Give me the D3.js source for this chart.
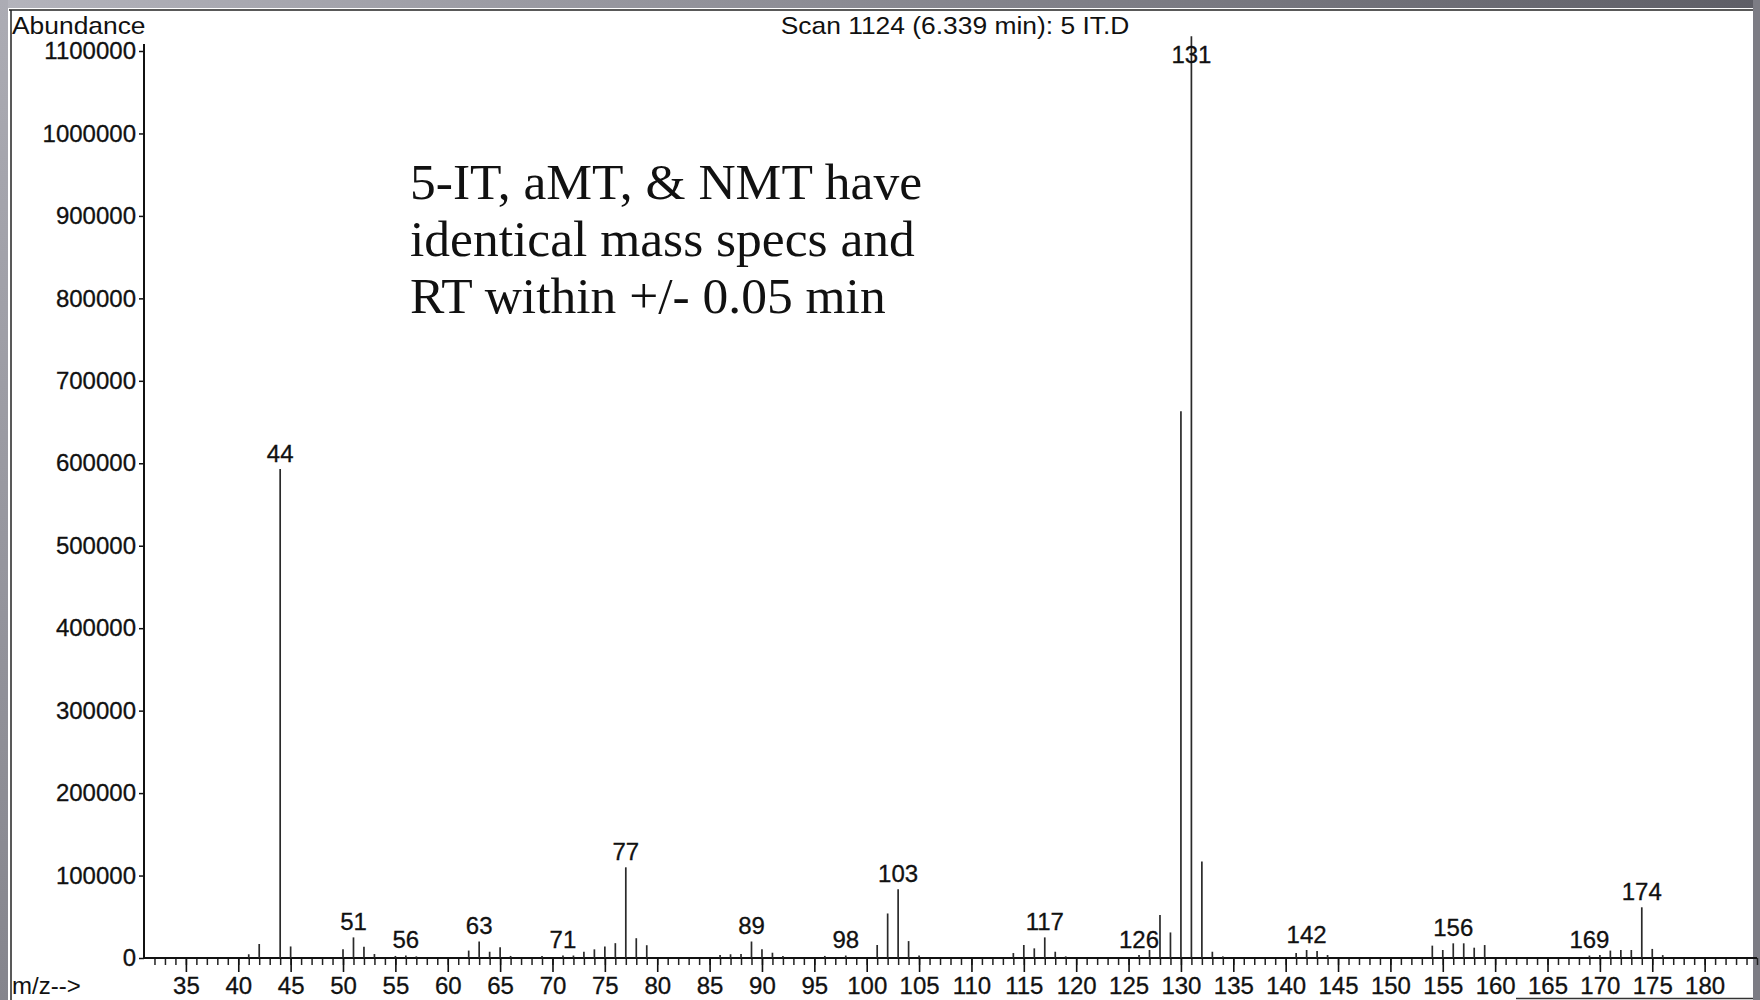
<!DOCTYPE html>
<html>
<head>
<meta charset="utf-8">
<script src="https://cdn.jsdelivr.net/npm/d3@7"></script>
<style>
  body { margin: 0; background: #fff; }
  svg { display: block; }
</style>
</head>
<body>
<svg id="chart"></svg>
<script>
// spectrum values (m/z, abundance)
const mzValues = [41, 42, 44, 45, 50, 51, 52, 53, 55, 56, 57, 62, 63, 64, 65, 66, 69, 71, 72, 73,
  74, 75, 76, 77, 78, 79, 86, 87, 88, 89, 90, 91, 92, 96, 98, 101, 102, 103, 104, 105,
  114, 115, 116, 117, 118, 119, 126, 127, 128, 129, 130, 131, 132, 133, 134, 141, 142, 143, 144,
  154, 155, 156, 157, 158, 159, 169, 170, 171, 172, 173, 174, 175, 176];
const abundances = [4500, 17000, 593000, 14000, 10500, 25000, 13500, 4800, 2500, 3000, 2000, 9000, 20000, 7600, 13000, 2500, 2500, 3000, 3000, 7600,
  10500, 14000, 18000, 110000, 24000, 15500, 3600, 4500, 5000, 20000, 10500, 6400, 2500, 2500, 3000, 15800, 54000, 83500, 20500, 3000,
  6000, 15800, 11700, 25000, 7600, 2000, 3600, 9700, 52000, 31000, 663000, 1118000, 117000, 7600, 2000, 6000, 9700, 8500, 3600,
  15000, 9700, 17800, 17800, 12500, 15700, 3000, 3500, 9000, 9700, 9700, 61500, 11000, 3500];
const labelledPeaks = [44, 51, 56, 63, 71, 77, 89, 98, 103, 117, 126, 131, 142, 156, 169, 174];
const xMajorTicks = d3.range(35, 181, 5);
const xMinorTicks = d3.range(32, 186, 1);
const yTicks = d3.range(0, 1100001, 100000);
const titleText = "Scan 1124 (6.339 min): 5 IT.D";
const noteLines = ["5-IT, aMT, & NMT have", "identical mass specs and", "RT within +/- 0.05 min"];

const W = 1760, H = 1000;
const margin = { top: 51, right: 3, bottom: 42, left: 144 };
const sans = "'Liberation Sans', Arial, sans-serif";

const svg = d3.select("#chart").attr("width", W).attr("height", H);

// scanned page frame
const defs = svg.append("defs");
const topGrad = defs.append("linearGradient").attr("id", "topGrad");
topGrad.append("stop").attr("offset", "0%").attr("stop-color", "#b4b4bc");
topGrad.append("stop").attr("offset", "100%").attr("stop-color", "#5e5e66");
const sideGrad = defs.append("linearGradient").attr("id", "sideGrad")
  .attr("x1", 0).attr("y1", 0).attr("x2", 0).attr("y2", 1);
sideGrad.append("stop").attr("offset", "0%").attr("stop-color", "#acacb4");
sideGrad.append("stop").attr("offset", "100%").attr("stop-color", "#85858d");

svg.append("rect").attr("width", W).attr("height", H).attr("fill", "#fff");
svg.append("rect").attr("x", 0).attr("y", 0).attr("width", W).attr("height", 8).attr("fill", "url(#topGrad)");
svg.append("rect").attr("x", 0).attr("y", 0).attr("width", 8).attr("height", H).attr("fill", "url(#sideGrad)");
svg.append("rect").attr("x", W - 7).attr("y", 0).attr("width", 7).attr("height", H).attr("fill", "#7c7c84");
svg.append("line").attr("x1", 9).attr("x2", W - 7).attr("y1", 10).attr("y2", 10)
  .attr("stroke", "#222").attr("stroke-width", 1.5);
svg.append("line").attr("x1", 11).attr("x2", 11).attr("y1", 10).attr("y2", H)
  .attr("stroke", "#222").attr("stroke-width", 1.5);
svg.append("line").attr("x1", 1516).attr("x2", W - 7).attr("y1", 998.5).attr("y2", 998.5)
  .attr("stroke", "#333").attr("stroke-width", 1.5);

// scales
const x = d3.scaleLinear().domain([31, 185]).range([margin.left, W - margin.right]);
const y = d3.scaleLinear().domain([0, 1100000]).range([H - margin.bottom, margin.top]);

// y axis
const yAxis = svg.append("g")
  .attr("transform", `translate(${margin.left},0)`)
  .call(d3.axisLeft(y).tickValues(yTicks).tickSize(5).tickSizeOuter(0).tickPadding(3)
    .tickFormat(d3.format("d")));
yAxis.select(".domain").remove();
yAxis.selectAll("text").style("font-family", sans).style("font-size", "24px")
  .attr("fill", "#111").attr("stroke", "#111").attr("stroke-width", 0.3);
yAxis.selectAll("line").attr("stroke", "#111").attr("stroke-width", 1.5);
svg.append("line")
  .attr("x1", margin.left).attr("x2", margin.left)
  .attr("y1", y(1100000) - 7).attr("y2", y(0))
  .attr("stroke", "#111").attr("stroke-width", 2);

// x axis: minor ticks every unit, labelled major ticks every 5
const xMinor = svg.append("g")
  .attr("transform", `translate(0,${y(0)})`)
  .call(d3.axisBottom(x).tickValues(xMinorTicks).tickSize(7).tickSizeOuter(0).tickFormat(""));
xMinor.select(".domain").remove();
xMinor.selectAll("line").attr("stroke", "#222").attr("stroke-width", 1.5);

const xMajor = svg.append("g")
  .attr("transform", `translate(0,${y(0)})`)
  .call(d3.axisBottom(x).tickValues(xMajorTicks).tickSize(14).tickSizeOuter(0).tickPadding(5)
    .tickFormat(d3.format("d")));
xMajor.select(".domain").remove();
xMajor.selectAll("line").attr("stroke", "#111").attr("stroke-width", 1.6);
xMajor.selectAll("text").style("font-family", sans).style("font-size", "24px")
  .attr("fill", "#111").attr("stroke", "#111").attr("stroke-width", 0.3);

svg.append("line")
  .attr("x1", margin.left).attr("x2", W - margin.right)
  .attr("y1", y(0)).attr("y2", y(0))
  .attr("stroke", "#111").attr("stroke-width", 2);

// spectrum sticks
const peaks = mzValues.map((m, i) => ({ mz: m, v: abundances[i] }));
svg.append("g").selectAll("line")
  .data(peaks)
  .enter()
  .append("line")
  .attr("x1", d => x(d.mz)).attr("x2", d => x(d.mz))
  .attr("y1", y(0)).attr("y2", d => y(d.v))
  .attr("stroke", "#2a2a2a")
  .attr("stroke-width", 1.7);

// peak labels
const peakByMz = new Map(peaks.map(d => [d.mz, d.v]));
svg.append("g").selectAll("text")
  .data(labelledPeaks)
  .enter()
  .append("text")
  .attr("x", d => x(d))
  .attr("y", d => Math.max(y(peakByMz.get(d)) - 16, y(1100000) + 3))
  .attr("text-anchor", "middle")
  .attr("dominant-baseline", "central")
  .style("font-family", sans)
  .style("font-size", "24px")
  .attr("fill", "#111").attr("stroke", "#111").attr("stroke-width", 0.3)
  .text(d => d);

// header texts
svg.append("text")
  .attr("transform", "translate(12,25) scale(1.1,1)")
  .attr("dominant-baseline", "central")
  .style("font-family", sans).style("font-size", "24px").attr("fill", "#111")
  .text("Abundance");

svg.append("text")
  .attr("transform", "translate(955,25) scale(1.1,1)")
  .attr("text-anchor", "middle")
  .attr("dominant-baseline", "central")
  .style("font-family", sans).style("font-size", "24px").attr("fill", "#111")
  .text(titleText);

svg.append("text")
  .attr("x", 12).attr("y", 985)
  .attr("dominant-baseline", "central")
  .style("font-family", sans).style("font-size", "24px").attr("fill", "#111")
  .text("m/z-->");

// annotation
svg.append("g").selectAll("text")
  .data(noteLines)
  .enter()
  .append("text")
  .attr("x", 410)
  .attr("y", (d, i) => 199 + i * 57)
  .style("font-family", "'Liberation Serif', 'Times New Roman', serif")
  .style("font-size", "51.5px")
  .attr("fill", "#111")
  .text(d => d);
</script>
</body>
</html>
